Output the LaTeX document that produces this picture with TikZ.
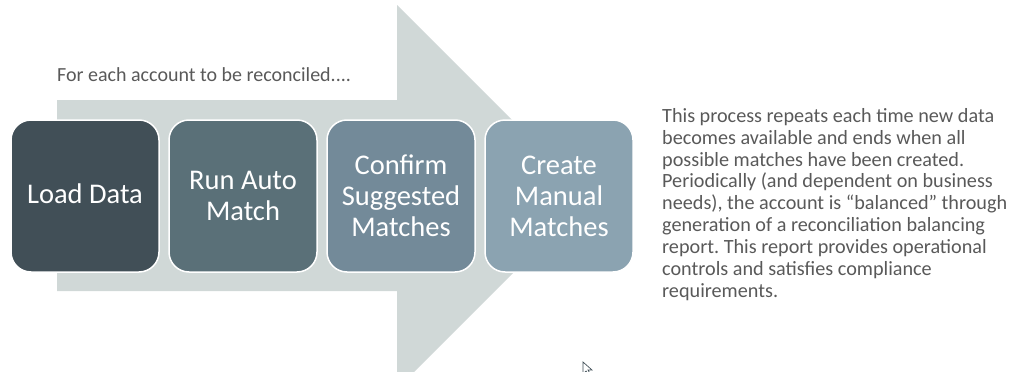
\documentclass[tikz,border=0pt]{standalone}
\usepackage{fontspec}
\setmainfont{Carlito}
\frenchspacing
\definecolor{arrowgray}{RGB}{208,216,215}
\definecolor{boxA}{RGB}{65,79,87}
\definecolor{boxB}{RGB}{90,112,120}
\definecolor{boxC}{RGB}{115,138,153}
\definecolor{boxD}{RGB}{139,163,177}
\definecolor{captiongray}{RGB}{89,89,89}
\tikzset{
  stepbox/.style={rectangle, rounded corners=20pt, draw=white, line width=1.5pt,
    minimum width=148pt, minimum height=152pt, inner sep=2pt, align=center,
    text=white, font=\fontsize{28.5}{31}\selectfont},
  caption/.style={text=captiongray, inner sep=0pt}
}
\begin{document}
\begin{tikzpicture}[x=1pt,y=-1pt]
\useasboundingbox (0,0) rectangle (1015,372);
\clip (0,0) rectangle (1015,372);
\fill[arrowgray] (57,100) -- (397,100) -- (397,5) -- (589,197) -- (397,389)
  -- (397,291) -- (57,291) -- cycle;
\node[caption, anchor=west, font=\fontsize{20}{22}\selectfont] (lead) at (57,75)
  {For each account to be reconciled....};
\node[stepbox, fill=boxA] (load) at (85,196) {Load Data\vphantom{g}};
\node[stepbox, fill=boxB] (auto) at (243,196) {Run Auto\\Match};
\node[stepbox, fill=boxC] (confirm) at (401,196) {Confirm\\Suggested\\Matches};
\node[stepbox, fill=boxD] (manual) at (559,196) {Create\\Manual\\Matches};
\node[caption, anchor=north west, align=left, font=\fontsize{20.2}{21.9}\selectfont] (note) at (662,108)
  {This process repeats each time new data\\
   becomes available and ends when all\\
   possible matches have been created.\\
   Periodically (and dependent on business\\
   needs), the account is “balanced” through\\
   generation of a reconciliation balancing\\
   report. This report provides operational\\
   controls and satisfies compliance\\
   requirements.};
\draw[line width=0.7pt, draw=boxA, fill=white] (583,362) -- (583,374) -- (586,371) -- (589,376) -- (591,375) -- (588,370) -- (592,370) -- cycle;
\end{tikzpicture}
\end{document}
